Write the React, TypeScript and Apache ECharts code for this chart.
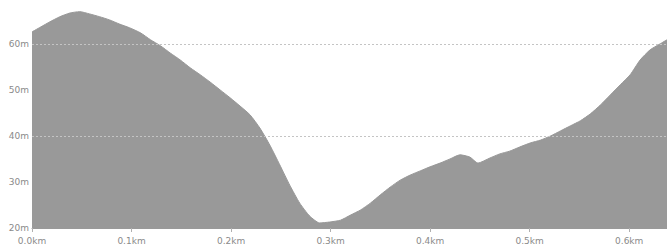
import React, { useEffect, useRef } from "react";
import * as echarts from "echarts";

const distancesKm = [
  0.0, 0.018, 0.028, 0.038, 0.048, 0.058, 0.068, 0.078, 0.088, 0.098, 0.109, 0.119, 0.129, 0.139,
  0.149, 0.159, 0.169, 0.179, 0.189, 0.199, 0.209, 0.219, 0.229, 0.239, 0.249, 0.259, 0.269, 0.279,
  0.289, 0.299, 0.31, 0.32, 0.33, 0.34, 0.35, 0.36, 0.37, 0.38, 0.39, 0.4, 0.41, 0.42, 0.43, 0.44,
  0.448, 0.46, 0.47, 0.48, 0.49, 0.501, 0.511, 0.521, 0.531, 0.541, 0.551, 0.561, 0.571, 0.581,
  0.591, 0.601, 0.611, 0.621, 0.631, 0.638,
];
const elevationsM = [
  62.6, 64.8, 65.9, 66.7, 67.0, 66.5, 65.9, 65.2, 64.3, 63.5, 62.4, 60.9, 59.6, 58.0, 56.5, 54.8,
  53.3, 51.7, 50.0, 48.3, 46.5, 44.6, 41.7, 38.0, 33.7, 29.3, 25.4, 22.6, 21.1, 21.3, 21.7, 22.8,
  23.9, 25.4, 27.2, 28.9, 30.4, 31.5, 32.4, 33.3, 34.1, 35.0, 35.9, 35.4, 34.1, 35.2, 36.1, 36.7,
  37.6, 38.5, 39.1, 40.0, 41.1, 42.2, 43.3, 44.8, 46.7, 48.9, 51.1, 53.3, 56.5, 58.7, 60.0, 60.9,
];
const gridLineValues = [60, 40];
const yMin = 20;
const yMax = 69.1;
const yStep = 10;
const xMax = 0.638;
const xStep = 0.1;

export default function App() {
  const ref = useRef<HTMLDivElement>(null);
  useEffect(() => {
    if (!ref.current) return;
    const chart = echarts.init(ref.current, null, { renderer: "svg" });
    chart.setOption({
      animation: false,
      backgroundColor: "#ffffff",
      grid: { left: 32, right: 0, top: 2, bottom: 21 },
      xAxis: {
        type: "value",
        min: 0,
        max: xMax,
        interval: xStep,
        axisLine: { show: true, lineStyle: { color: "#999999", width: 1 } },
        axisTick: { show: true, length: 4, lineStyle: { color: "#b0b0b0" } },
        splitLine: { show: false },
        axisLabel: {
          color: "#8a8a8a",
          fontSize: 9,
          fontFamily: "DejaVu Sans",
          margin: 8,
          showMaxLabel: false,
          formatter: (v: number) => v.toFixed(1) + "km",
        },
      },
      yAxis: {
        type: "value",
        min: yMin,
        max: yMax,
        interval: yStep,
        axisLine: { show: false },
        axisTick: { show: false },
        splitLine: { show: false },
        axisLabel: {
          color: "#8a8a8a",
          fontSize: 9,
          fontFamily: "DejaVu Sans",
          margin: 3,
          showMaxLabel: false,
          formatter: (v: number) => (v % yStep === 0 ? v + "m" : ""),
        },
      },
      series: [
        {
          type: "line",
          data: distancesKm.map((d, i) => [d, elevationsM[i]]),
          showSymbol: false,
          symbol: "none",
          smooth: 0.2,
          lineStyle: { color: "#989898", width: 1 },
          areaStyle: { color: "#999999", opacity: 1, origin: "start" },
          markLine: {
            silent: true,
            symbol: "none",
            label: { show: false },
            lineStyle: { color: "#c4c4c4", type: [2, 2], width: 1 },
            data: gridLineValues.map((v) => ({ yAxis: v })),
          },
        },
      ],
    });
    return () => chart.dispose();
  }, []);
  return (
    <div
      ref={ref}
      style={{ position: "absolute", left: 0, top: 0, width: 667, height: 249, background: "#fff" }}
    />
  );
}
